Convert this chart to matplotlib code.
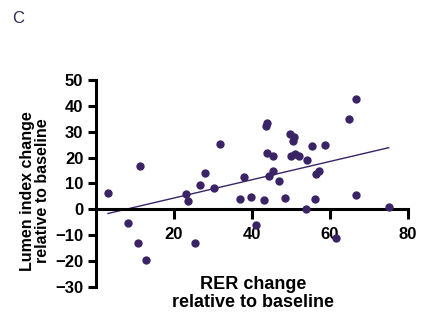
import numpy as np
import matplotlib.pyplot as plt

plt.rcParams['font.family'] = ['Liberation Sans', 'DejaVu Sans']

# RER change vs lumen index change, both relative to baseline
rer_change = [3.1, 8.2, 10.8, 11.4, 12.9, 23.1, 23.7, 25.4, 26.6, 28.0,
              30.3, 31.9, 36.9, 38.0, 39.8, 41.1, 43.0, 43.5, 44.0, 44.0,
              44.4, 45.4, 45.4, 47.0, 48.4, 49.8, 50.1, 50.8, 50.5, 51.1,
              52.2, 53.8, 54.1, 55.4, 56.2, 56.5, 57.1, 58.7, 61.5, 64.8,
              66.6, 66.8, 75.1]
lumen_change = [6.3, -5.3, -13.0, 16.9, -19.6, 5.9, 3.4, -13.2, 9.4, 14.1,
                8.3, 25.3, 4.0, 12.6, 4.6, -5.9, 3.6, 32.4, 33.5, 21.7,
                12.9, 20.8, 15.0, 10.8, 4.3, 29.3, 20.8, 28.0, 26.6, 21.2,
                20.6, 0.0, 19.0, 24.4, 4.0, 13.8, 14.8, 25.0, -11.1, 35.0,
                42.7, 5.5, 1.0]

x = np.array(rer_change)
y = np.array(lumen_change)
slope, intercept = np.polyfit(x, y, 1)   # linear regression
fit_x = np.array([x.min(), x.max()])

purple = '#3a2466'

fig = plt.figure(figsize=(4.32, 3.36), dpi=100)
ax = fig.add_axes([0.222, 0.146, 0.722, 0.616])

ax.scatter(x, y, s=36, color=purple, zorder=3, linewidths=0)
ax.plot(fit_x, slope * fit_x + intercept, color=purple, lw=1.0, zorder=2)

ax.set_xlim(0, 80)
ax.set_ylim(-30, 50)
ax.set_xticks([20, 40, 60, 80])
ax.set_yticks(np.arange(-30, 51, 10))

# prism-style axes: x axis crosses at y=0
ax.spines['bottom'].set_position(('data', 0))
ax.spines['top'].set_visible(False)
ax.spines['right'].set_visible(False)
for s in ['left', 'bottom']:
    ax.spines[s].set_linewidth(2.2)
ax.tick_params(width=2.2, labelsize=12)
ax.tick_params(axis='x', length=7, pad=6)
ax.tick_params(axis='y', length=6, pad=3)
for lab in ax.get_xticklabels() + ax.get_yticklabels():
    lab.set_fontweight('bold')

fig.text(0.585, 0.126, 'RER change\nrelative to baseline', ha='center',
         va='center', fontsize=13, fontweight='bold', linespacing=1.05)
fig.text(0.081, 0.432, 'Lumen index change\nrelative to baseline', ha='center',
         va='center', rotation=90, fontsize=11.5, fontweight='bold', linespacing=1.05)
fig.text(0.028, 0.945, 'C', fontsize=12, color='#2a2a55', va='center')

plt.savefig('out.png', dpi=100)
